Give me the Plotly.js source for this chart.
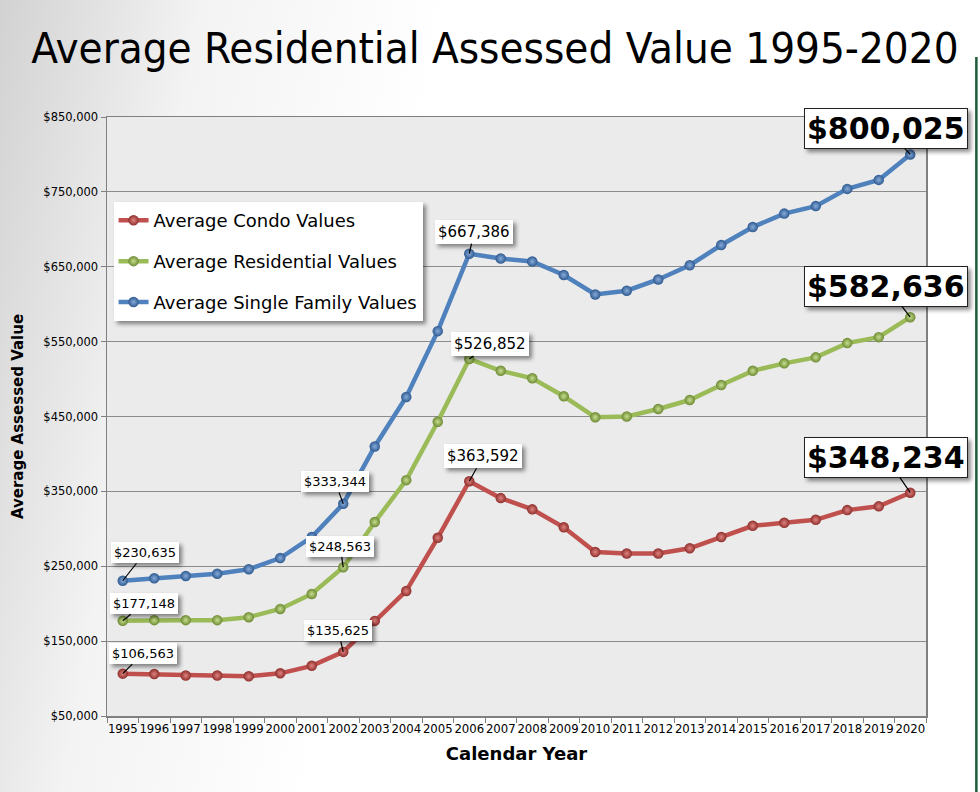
<!DOCTYPE html>
<html>
<head>
<meta charset="utf-8">
<script src="https://cdn.plot.ly/plotly-3.0.1.min.js"></script>
<style>
html,body{margin:0;padding:0;}
body{width:980px;height:792px;background:linear-gradient(100deg,#d2d2d2 0%,#f3f3f3 18%,#ffffff 40%,#ffffff 100%);overflow:hidden;}
#chart{width:980px;height:792px;}
#chart .annotation rect.bg, #chart .legend rect.bg{filter:drop-shadow(3px 3px 2px rgba(0,0,0,0.45));}
</style>
</head>
<body>
<div id="chart"></div>
<script>
const years = ["1995","1996","1997","1998","1999","2000","2001","2002","2003","2004","2005","2006","2007","2008","2009","2010","2011","2012","2013","2014","2015","2016","2017","2018","2019","2020"];
const condoValues = [106563,106000,104000,104000,103000,107000,117000,135625,177000,217000,288000,363592,341000,326000,302000,269000,267000,267000,274000,289000,304000,308000,312000,325000,330000,348234];
const residentialValues = [177148,178000,178000,178000,182000,193000,213000,248563,309000,365000,443000,526852,511000,501000,477000,449000,450000,460000,472000,492000,511000,521000,529000,548000,556000,582636];
const singleFamilyValues = [230635,234000,237000,240000,246000,261000,289000,333344,410000,476000,564000,667386,661000,657000,639000,613000,618000,633000,652000,679000,703000,721000,731000,754000,766000,800025];
const seriesNames = ["Average Condo Values","Average Residential Values","Average Single Family Values"];
const yTickVals = [50000,150000,250000,350000,450000,550000,650000,750000,850000];

// labelled points: [series index, year index]
const smallLabels = [[2,0],[1,0],[0,0],[2,7],[1,7],[0,7]];
const midLabels = [[2,11],[1,11],[0,11]];
const bigLabels = [[2,25],[1,25],[0,25]];

const allSeries = [condoValues, residentialValues, singleFamilyValues];
const lineColors = ["#c0504d","#9bbb59","#4f81bd"];
const markerColors = ["#8e2f2c","#6d8a33","#2f5a8f"];
const highlight = ["#e0827f","#c6de8e","#86abdc"];

const fmt = v => "$" + v.toLocaleString("en-US");

const traces = allSeries.map((vals,i)=>({
  type:"scatter", mode:"lines+markers", x:years, y:vals, name:seriesNames[i],
  legendgroup:"g"+i,
  line:{color:lineColors[i], width:4.5},
  marker:{size:10.5, color:markerColors[i], gradient:{type:"radial", color:highlight[i]}, line:{width:0}},
  hoverinfo:"x+y"
}));

// offsets for labels (pixels)
const labelOff = {"2,0":[22,-28],"1,0":[21,-17],"0,0":[20,-20],"2,7":[-8,-22],"1,7":[-3,-21],"0,7":[-5,-21],
  "2,11":[5,-22],"1,11":[21,-15],"0,11":[14,-25],"2,25":[-24,-26],"1,25":[-24,-31],"0,25":[-24,-35]};

const annotations = [];
function addLabel(s, idx, size, bold, border){
  const v = allSeries[s][idx];
  const off = labelOff[s+","+idx];
  const txt = bold ? "<b>"+fmt(v)+"</b>" : fmt(v);
  annotations.push({x:idx, y:v, xref:"x", yref:"y", text:txt, showarrow:true, arrowhead:0, arrowwidth:1.2, arrowcolor:"#000",
    ax:off[0], ay:off[1], font:{family:"DejaVu Sans", size:size, color:"#000"},
    bgcolor:"#ffffff", borderpad:border?2:3, bordercolor:border?"#222":"rgba(0,0,0,0)", borderwidth:border?1:0});
}
smallLabels.forEach(([s,i])=>addLabel(s,i,13,false,false));
midLabels.forEach(([s,i])=>addLabel(s,i,15,false,false));
bigLabels.forEach(([s,i])=>addLabel(s,i,30,true,true));

const layout = {
  width:980, height:792,
  paper_bgcolor:"rgba(0,0,0,0)", plot_bgcolor:"#ebebeb",
  margin:{l:107, r:54, t:117, b:76},
  title:{text:"Average Residential Assessed Value 1995-2020", font:{family:"DejaVu Sans Condensed", size:43.5, color:"#000"},
    x:0.505, xref:"container", xanchor:"center", y:0.94, yref:"container", yanchor:"middle"},
  showlegend:true,
  legend:{x:0.008, y:0.858, xanchor:"left", yanchor:"top", bgcolor:"#ffffff", borderwidth:0,
    font:{family:"DejaVu Sans", size:18, color:"#000"}, traceorder:"grouped", tracegroupgap:14.5, itemwidth:30},
  xaxis:{type:"category", range:[-0.5,25.5], tickson:"boundaries", ticks:"outside", ticklen:5, tickcolor:"#808080",
    showgrid:false, showline:true, linecolor:"#808080", linewidth:1.5, mirror:true, zeroline:false,
    tickfont:{family:"DejaVu Sans Condensed", size:13, color:"#000"}, tickangle:0,
    title:{text:"<b>Calendar Year</b>", font:{family:"DejaVu Sans", size:18, color:"#000"}, standoff:12}},
  yaxis:{range:[50000,850000], tickvals:yTickVals, ticktext:yTickVals.map(fmt), ticks:"outside", ticklen:5, tickcolor:"#808080",
    showgrid:true, gridcolor:"#8c8c8c", gridwidth:1, showline:true, linecolor:"#808080", linewidth:1.5, mirror:true, zeroline:false,
    tickfont:{family:"DejaVu Sans", size:11.5, color:"#000"},
    title:{text:"<b>Average Assessed Value</b>", font:{family:"DejaVu Sans", size:15, color:"#000"}, standoff:16}},
  shapes:[
    {type:"line", xref:"paper", yref:"paper", x0:1.0615, x1:1.0615, y0:-0.13, y1:1.10, line:{color:"#1e5a3c", width:2.5}}
  ],
  annotations:annotations
};

Plotly.newPlot("chart", traces, layout, {displayModeBar:false, staticPlot:true});
</script>
</body>
</html>
